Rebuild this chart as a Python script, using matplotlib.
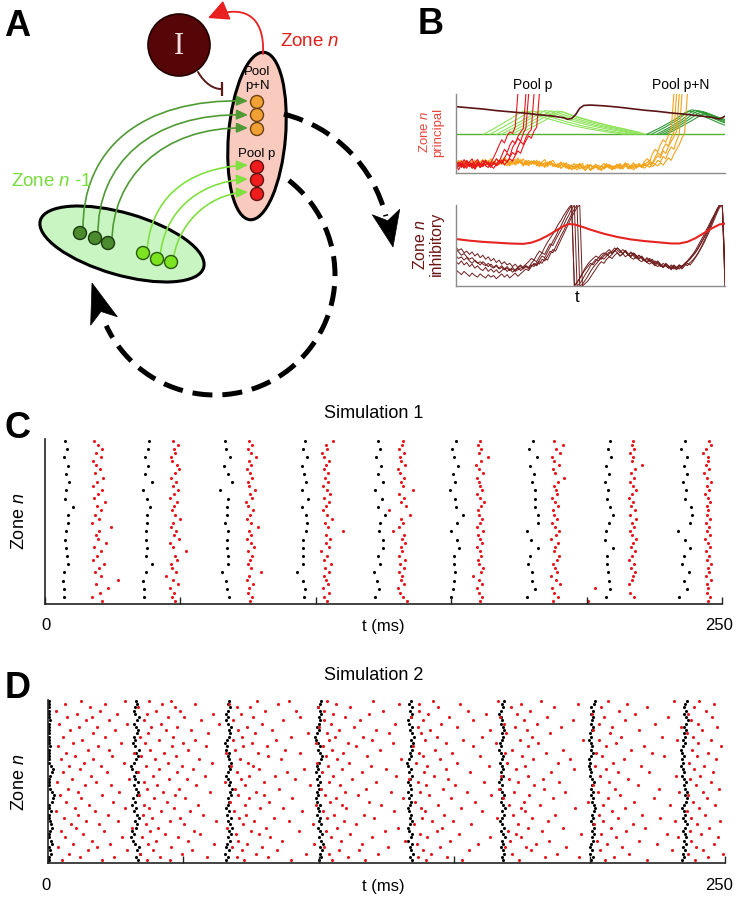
import numpy as np
import matplotlib
matplotlib.use("Agg")
import matplotlib.pyplot as plt
from matplotlib.patches import Ellipse, Circle, Arc, Polygon, FancyArrowPatch
from matplotlib.path import Path

plt.rcParams['font.family'] = ['Liberation Sans', 'DejaVu Sans']
plt.rcParams['mathtext.fontset'] = 'custom'
plt.rcParams['mathtext.it'] = 'Liberation Sans:italic'
plt.rcParams['mathtext.rm'] = 'Liberation Sans'

# ---------------- panel B : principal cells (values in % of axis height) ----
red_traces = [
    [12,8,15,10,6,14,18,9,12,7,11,16,10,13,20,27,35,42,38,47,52,50,58,100],
    [6,13,9,17,11,8,12,5,14,10,16,9,7,13,11,18,14,22,30,26,35,41,37,46,52,56,100],
    [15,9,12,6,10,14,8,13,17,11,9,15,12,8,14,10,16,13,19,25,21,32,38,44,40,50,57,100],
    [10,4,12,8,15,11,6,9,13,7,12,10,14,9,6,11,15,12,17,14,20,26,23,33,40,36,45,51,55,100],
    [8,14,7,11,16,9,13,5,10,12,8,15,11,7,13,9,12,16,10,14,18,15,22,28,25,34,41,47,44,53,58,100],
]
orange_traces = [
    [10,14,8,12,16,11,9,13,17,12,15,10,14,18,13,11,16,12,19,14,10,15,17,12,14,9,13,16,11,15,
     12,8,14,17,10,13,16,11,7,12,9,6,10,4,8,11,5,9,3,7,10,6,8,4,9,12,7,10,5,8,
     11,6,9,13,8,5,10,7,12,9,14,18,15,24,30,27,36,42,39,48,55,100],
    [15,9,12,7,11,14,10,16,8,13,11,17,12,9,15,13,10,14,20,16,12,17,11,15,13,18,10,14,12,16,
     9,13,11,7,14,10,12,8,11,6,9,13,5,10,7,4,9,12,6,8,3,7,11,5,9,6,10,8,4,7,
     10,5,8,12,6,9,4,8,11,7,10,13,16,12,20,26,22,31,37,34,45,52,100],
    [7,12,10,15,9,13,6,11,14,9,12,16,11,8,14,10,13,17,12,9,15,11,14,19,13,10,16,12,15,11,
     14,10,13,9,12,15,8,11,7,10,13,8,5,9,12,7,10,6,4,8,11,5,9,7,3,8,10,6,9,5,
     8,12,7,10,6,9,13,8,11,7,10,9,14,11,17,22,19,28,25,34,40,46,53,100],
    [12,16,10,14,8,12,15,11,9,14,17,12,10,15,12,18,14,11,16,13,9,14,12,17,15,11,13,9,14,12,
     16,11,9,13,10,14,12,8,10,14,9,11,7,10,5,9,12,6,8,11,4,9,7,10,5,8,12,6,9,7,
     11,8,5,9,12,7,10,6,9,8,12,10,7,13,11,16,14,21,18,27,33,30,41,49,100],
    [9,13,16,11,14,10,12,8,15,11,13,9,16,12,14,10,13,17,11,15,12,16,10,13,17,12,14,10,15,13,
     11,15,10,12,8,13,11,9,12,6,10,8,11,5,9,7,12,6,8,10,4,7,11,6,9,5,8,11,7,9,
     6,10,8,12,5,9,7,11,8,10,6,9,12,8,11,9,13,10,15,19,16,24,30,36,44,51,100],
]
input_level = 49
light_green_x = [
    [10.2,15,20,23.5,25.2,27,29,33,38,44,50,56,63],
    [12.6,18,23,26.3,28,29.8,31.8,35.8,40.8,46.8,52.8,58.8,65],
    [15.1,20.5,26,29.4,31.1,32.9,34.9,38.9,43.9,49.9,55.9,61.9,66.5],
    [16.9,22.5,28,31.5,33.2,35,37,41,46,52,58,63.5,67.5],
    [18.8,24.5,30,33.7,35.4,37.2,39.2,43.2,48.2,54.2,60.2,65.2,68.5],
    [20.6,26.5,32,35.9,37.6,39.4,41.4,45.4,50.4,56.4,62,66.5,69.5],
    [23.1,28,33,36.9,38.6,40.4,42.4,46.4,51.4,57.4,63,67.5,70.5],
]
light_green_y = [
    [49,58,68,75.5,78.5,77.6,74.5,70,65,59.5,55.5,52,49],
    [49,59,68.5,75.6,78.5,77.6,74.6,70.2,65.1,59.8,55.6,52.1,49],
    [49,59,69,75.7,78.6,77.7,74.7,70.3,65.3,60,55.8,52.3,49],
    [49,59,69.5,76,79,78.1,75,70.5,65.5,60.2,56,52.4,49],
    [49,59,69,75.6,78.5,77.7,74.8,70.4,65.4,60.1,55.9,52.3,49],
    [49,59,69,75.5,78.4,77.6,74.7,70.3,65.3,60,55.8,52.2,49],
    [49,57.5,66.5,74.6,77.5,76.8,74,69.8,64.9,59.7,55.5,52,49],
]
dark_green_x = [
    [70.9,76,81,84.7,86.4,88.2,90,94,98,100],
    [72.7,77.5,82.5,85.9,87.6,89.4,91,95,99,100],
    [74.6,79.5,84,87.1,88.8,90.6,92,96,100],
    [75.8,80.5,85.5,88.4,90.1,91.9,93,97,100],
    [77.1,82,87,89.6,91.3,93.1,94,98,100],
    [78.3,83,88,90.8,92.5,94.3,95,98,100],
]
dark_green_y = [
    [49,57.5,67,75.5,78.5,77.4,75,69,63,60.5],
    [49,57.5,67.5,76.8,80,78.8,76.5,70.2,64.5,63.5],
    [49,58,67.5,76.2,79.3,78.1,76,69.8,64.5],
    [49,57.5,68,75.7,78.7,77.6,75.8,69.8,66],
    [49,58,68.5,74.6,77.5,76.5,75,69.8,67.5],
    [49,57.5,67,72.6,75.5,74.6,73.5,69.5,67.5],
]
recurrent_x = [0,5,10,15,20,25,30,35,40,41.5,43,44.5,46,47.5,50,55,60,65,70,75,80,85,90,95,97,98,99,100]
recurrent_y = [84,82.5,81,79,77.5,76,74,72.5,70,68,69,74,82,85.5,86,85,83.5,81.5,79.5,78,76,74.5,72.5,70.5,69,68.5,70,72]

# ---------------- panel B : inhibitory cells -----------------------------
inh_mean_x = [0,5,10,15,20,25,28,31,34,37,40,42,44,47,50,55,60,65,70,75,80,83,86,89,92,95,98,100]
inh_mean_y = [58,56,54.5,53.5,52.5,52,53.5,57,62,68,74,76.5,76,73,69.5,64.5,60.5,57.5,55.5,54,52.5,52.5,54.5,59,65,71,76,77]
inh_traces = [
    [45,42,38,40,36,33,35,31,28,30,27,25,28,24,22,25,21,23,20,22,19,21,18,20,22,24,
     27,30,34,32,38,43,41,48,54,59,64,70,76,81,87,92,97,100,
     0,4,10,16,22,27,31,34,37,35,39,41,
     38,42,40,44,41,37,40,36,39,35,33,36,32,30,33,
     29,27,30,26,24,27,23,25,22,24,21,23,26,24,28,
     31,35,39,44,50,56,62,69,75,82,88,95,100,100,12],
    [30,27,31,26,29,24,27,22,25,21,19,23,18,21,17,20,16,19,22,18,21,17,20,23,19,22,
     25,23,28,32,30,36,41,39,46,52,50,57,63,69,75,82,88,95,100,
     0,3,8,14,19,25,29,33,31,36,39,42,
     45,41,44,47,43,40,44,38,41,37,34,38,35,31,34,
     30,33,28,31,27,24,28,25,22,26,23,21,25,27,30,
     34,38,42,47,53,59,66,73,80,87,94,100,100,0],
    [20,17,14,18,15,12,16,13,11,15,12,10,14,11,13,9,12,15,11,14,10,13,16,12,15,18,
     21,19,24,28,26,32,37,35,42,48,55,61,68,74,81,88,94,100,
     0,5,9,15,20,24,28,26,31,35,33,37,
     40,36,39,43,47,44,40,43,39,36,40,37,33,36,32,
     29,32,28,25,29,26,23,27,24,20,24,22,25,23,27,
     30,33,37,41,46,52,58,64,71,78,86,93,100,100,18],
    [37,34,36,32,35,31,28,32,29,26,30,27,24,27,23,26,22,25,21,24,20,23,19,22,25,21,
     24,22,26,24,29,27,33,31,37,43,41,48,55,62,68,75,82,89,95,100,
     0,2,7,12,18,23,27,31,35,33,37,40,
     43,47,44,41,45,42,38,42,39,35,38,34,31,35,32,
     28,31,27,24,28,25,22,26,23,20,24,21,25,28,26,
     30,35,40,46,52,59,66,74,82,90,97,100,0],
    [48,44,46,41,43,39,42,37,40,35,38,33,36,31,34,29,32,27,30,26,28,24,27,23,26,22,
     25,21,24,27,25,30,28,34,32,39,45,43,50,57,64,71,78,85,91,97,100,
     0,3,6,11,16,21,26,30,28,33,36,34,
     38,41,37,40,44,40,37,41,38,34,37,33,30,34,31,
     27,30,26,23,27,24,21,25,22,26,23,27,25,29,32,
     36,41,47,54,61,69,77,85,93,100,100,22],
]

# ---------------- panel C : Simulation 1 spike times (ms) ------------------
c_black = [
    [7.1,7.0,6.8,7.0,8.4,8.0,7.6,7.5,7.6,8.6,8.4,10.5,7.4,7.8,8.9,7.9,8.6,7.2,8.1,7.5],
    [36.6,36.6,36.3,37.2,39.4,37.2,37.5,37.3,37.3,37.5,37.5,38.8,37.5,36.3,39.4,37.0,38.1,36.8,37.9,38.4],
    [68.0,67.1,66.8,65.2,67.5,67.5,67.1,67.1,67.5,66.5,67.1,67.3,67.7,64.6,68.9,67.4,66.2,68.3,67.0,66.6],
    [95.6,96.0,95.2,92.9,95.4,95.2,95.2,95.4,96.4,96.6,96.4,94.8,97.2,94.8,96.4,95.8,94.9,96.7,95.3,96.1],
    [121.9,123.5,122.7,121.5,123.7,123.1,124.7,124.7,123.5,123.7,125.6,123.1,124.3,121.9,124.9,123.0,124.2,122.4,123.8,122.9],
    [149.8,150.6,151.2,151.4,151.2,151.2,153.0,152.3,150.0,152.1,154.5,151.8,151.4,149.6,151.4,150.5,152.6,151.0,150.2,151.9],
    [177.9,181.0,179.7,179.7,178.5,179.1,182.2,179.4,177.9,182.2,182.2,181.0,181.0,181.0,179.7,180.4,179.0,181.6,178.8,180.2],
    [207.2,208.6,208.4,208.0,207.6,207.6,209.9,206.8,207.2,208.4,209.9,208.6,207.6,208.0,206.8,208.3,207.1,209.0,207.8,208.5],
    [234.2,236.9,236.0,237.9,235.1,236.0,238.2,236.3,233.9,238.2,238.8,238.4,236.3,236.7,235.5,237.2,235.8,236.9,234.9,236.4],
]
c_red = [
    [21.0,17.5,20.2,23.4,19.0,26.8,20.8,18.5,19.8,21.9,17.9,19.3,20.6,18.1,22.7,19.5,18.8,20.1,24.4,17.2,
     19.9,18.4,20.7,19.1,22.2,18.0,19.6,20.9,17.7,19.2,21.5,18.6,20.3,19.0,17.9,20.5,18.9,21.1,19.4,18.2],
    [48.1,46.9,47.6,46.2,49.0,47.3,44.5,48.4,47.0,46.6,48.8,47.9,52.0,47.4,46.1,49.6,47.8,48.5,46.4,47.2,
     49.9,48.0,46.8,47.5,48.9,46.3,47.7,49.2,47.1,48.3,46.5,47.9,49.4,48.6,47.0,46.4,48.1,47.6,49.1,47.3],
    [75.8,76.4,74.9,75.2,76.9,74.6,75.5,79.8,76.1,74.8,75.7,76.6,75.0,77.3,75.9,74.5,76.2,75.4,78.6,76.0,
     74.7,75.6,76.8,75.1,74.4,76.3,75.8,77.5,75.2,74.9,76.5,75.7,74.6,76.1,75.3,78.0,75.9,74.8,76.4,75.5],
    [104.1,103.2,105.0,102.6,104.5,103.7,102.9,104.8,103.4,105.6,103.0,104.2,102.1,104.9,103.6,105.3,103.9,110.2,104.4,103.3,
     106.1,104.0,102.5,103.8,104.7,103.1,105.2,104.3,102.7,104.5,103.5,104.6,102.9,103.9,104.8,103.2,102.2,104.1,103.6,106.4],
    [133.6,132.2,131.0,130.4,132.6,131.6,131.9,130.8,132.4,131.2,132.8,130.6,132.0,131.4,133.0,131.8,132.5,128.6,130.9,132.3,
     131.5,134.8,127.0,133.2,131.3,132.6,130.7,135.8,132.1,131.4,132.7,131.0,130.5,132.9,131.6,131.2,132.4,130.9,131.8,132.3],
    [160.7,161.2,160.1,159.6,161.5,160.4,158.2,160.9,161.8,160.3,159.8,161.1,160.5,159.4,161.4,160.8,160.0,161.6,159.7,160.6,
     161.3,160.2,159.9,161.0,162.2,160.5,159.5,161.2,160.7,160.1,159.6,161.7,160.3,159.2,160.9,163.5,160.4,161.1,159.8,160.6],
    [187.6,189.5,188.1,187.2,190.0,188.6,186.8,189.2,188.4,187.5,188.9,189.7,187.9,188.2,189.4,187.0,188.7,189.8,188.3,187.4,
     189.1,188.0,187.7,189.6,188.5,187.3,189.0,188.8,187.8,189.3,191.8,188.4,187.6,189.9,188.1,187.1,190.3,188.6,191.2,187.9],
    [200.6,217.4,216.2,203.1,215.8,216.7,217.2,218.0,216.4,217.5,215.6,216.9,217.9,216.3,217.1,218.3,216.6,215.9,217.4,216.8,
     218.1,216.2,217.7,216.5,217.0,215.7,216.9,218.4,217.3,216.1,217.6,216.4,217.8,220.4,216.7,217.2,216.0,217.5,216.8,217.3],
    [244.9,245.6,244.3,245.0,244.6,245.8,244.1,245.3,244.7,245.9,244.4,245.2,244.0,245.5,244.8,243.9,245.4,244.6,245.1,244.2,
     245.7,244.5,245.0,244.3,245.6,244.9,243.7,245.2,244.4,245.8,244.6,243.5,245.3,244.1,245.0,244.7,243.0,244.0,245.9,245.2],
]

# ---------------- panel D : Simulation 2 spike times (ms) ------------------
d_black = [
    [0.4,0.3,1.2,0.8,0.4,1.5,1.1,0.5,0.3,0.9,1.6,1.2,0.6,0.3,0.4,1.0,0.5,0.3,1.3,1.9,2.3,1.4,0.6,0.3,0.4,
     0.3,0.8,1.4,2.0,1.1,0.4,0.3,0.5,0.3,0.4,0.9,0.3,0.4,0.3,0.3,0.5,0.4,0.3,0.6,0.3,0.4,0.3,0.3,0.5,0.4],
    [33.2,32.6,33.8,32.9,33.5,32.1,31.4,30.8,31.9,31.2,32.5,33.0,32.2,33.6,32.8,31.7,32.4,31.1,32.0,31.5,32.7,33.3,32.6,31.9,33.1,
     32.3,31.6,32.5,31.2,30.7,31.8,32.4,33.2,32.6,33.5,32.0,31.3,32.1,31.6,32.8,33.4,32.5,31.8,32.9,33.6,32.3,31.7,32.2,33.0,32.5],
    [65.8,66.5,65.4,66.9,65.9,66.2,67.1,66.4,67.5,66.8,67.9,67.2,66.6,67.4,66.0,66.7,65.6,66.3,67.0,66.5,67.6,67.1,67.8,66.9,67.3,
     66.6,65.9,66.4,67.2,66.8,67.5,67.0,66.3,66.9,65.7,66.2,65.5,66.1,66.8,67.3,66.7,67.4,66.5,65.8,66.4,65.9,66.6,67.1,66.3,66.9],
    [100.2,100.9,100.4,101.2,100.6,101.5,100.8,99.9,101.1,100.3,99.6,100.7,99.9,100.5,99.2,100.1,99.7,100.4,99.4,98.9,99.8,99.3,100.0,99.6,100.3,
     99.5,99.9,99.1,99.7,99.2,100.2,100.8,101.3,100.6,99.8,100.4,99.7,99.1,98.7,99.5,100.2,99.3,99.9,100.6,100.1,100.8,100.3,99.6,100.4,100.9],
    [134.5,133.8,134.9,134.2,133.6,134.4,133.1,133.9,134.6,133.4,133.0,133.7,134.3,133.5,134.1,133.2,132.8,133.6,134.2,133.4,133.9,133.1,134.0,133.5,132.9,
     133.8,134.4,133.3,133.9,133.0,132.6,133.4,134.1,133.7,134.5,133.9,134.8,134.2,135.1,134.4,133.6,134.3,133.2,132.8,133.9,134.6,133.8,134.3,133.4,134.0],
    [168.2,167.6,168.5,167.9,167.3,168.1,167.5,168.7,168.0,167.4,168.3,167.7,166.8,167.6,168.4,167.8,168.6,167.9,167.2,167.8,168.5,167.6,167.0,167.7,166.6,
     167.3,168.0,167.4,168.2,167.6,166.9,167.5,168.1,167.3,166.7,167.4,166.8,167.5,168.2,167.7,168.4,167.9,167.1,167.8,167.2,166.5,167.3,168.0,167.5,168.3],
    [200.5,201.1,200.3,200.8,200.0,200.6,201.3,200.9,201.6,201.0,201.8,201.3,200.7,201.4,200.9,201.7,202.1,201.5,200.8,201.3,200.6,201.1,200.4,200.9,201.5,
     200.8,200.2,200.7,200.0,199.6,200.3,199.8,200.5,201.2,200.6,201.0,200.4,199.9,200.6,200.1,200.8,201.3,200.5,200.9,201.4,200.7,201.2,200.6,201.5,202.0],
    [234.2,234.9,234.4,235.2,234.6,235.5,234.9,235.7,235.1,234.5,235.3,235.9,235.2,234.6,235.4,234.8,234.2,234.9,235.6,236.1,235.4,235.9,235.3,234.7,235.5,
     234.9,234.3,235.0,234.4,233.9,234.6,234.1,234.8,234.3,233.8,234.5,235.1,234.6,235.3,234.8,235.5,235.0,235.7,236.2,235.5,234.9,235.6,234.8,235.3,236.0],
]
d_red = [
    [5.1,19.8,36.4,44.9,72.3,89.6,104.8,117.2,139.5,152.8,174.1,205.6,221.3,238.9],
    [11.7,24.2,41.3,58.7,69.8,81.4,110.6,136.8,147.2,183.5,196.2,209.1,243.6],
    [7.9,34.1,49.5,76.8,95.1,103.6,121.9,141.3,171.2,187.9,214.7,236.4,249.1],
    [14.6,29.3,38.8,53.2,71.5,84.7,107.3,114.9,138.6,155.4,178.3,203.8,230.5,241.7],
    [3.8,18.2,45.6,67.9,79.2,101.9,125.4,144.7,168.9,176.6,191.4,211.8,239.2],
    [9.3,22.8,36.9,61.4,73.6,98.4,116.1,136.2,158.7,180.2,206.4,224.9,245.8],
    [16.4,39.7,51.8,70.2,86.3,108.1,131.7,148.3,170.6,185.1,202.9,218.3,237.6],
    [6.2,27.5,34.6,47.9,82.1,104.4,119.8,139.9,163.2,174.8,209.7,232.8,247.3],
    [12.9,43.2,56.3,69.4,77.8,111.5,137.4,151.6,172.9,196.8,204.2,228.6,241.1],
    [4.7,20.6,37.8,53.9,74.9,92.6,102.7,124.3,143.8,169.7,182.4,213.5,236.9],
    [10.5,31.2,40.6,66.1,80.5,106.9,129.2,145.5,177.1,190.3,207.8,220.6,244.2],
    [8.4,18.9,36.2,50.4,71.9,97.8,113.6,135.1,156.2,173.4,201.7,215.9,239.8],
    [14.1,25.7,45.1,61.9,76.2,88.9,109.4,141.9,149.7,184.6,205.1,231.4,248.2],
    [5.9,38.3,48.8,70.7,83.6,103.1,120.5,138.1,165.9,178.9,210.6,226.1,237.3],
    [11.2,22.1,34.9,57.1,73.2,105.7,116.8,146.4,171.8,187.2,203.4,219.2,242.6],
    [2.9,17.3,41.9,52.3,68.6,93.8,101.4,127.9,139.2,160.4,176.2,208.3,235.8],
    [9.8,28.6,37.2,46.4,78.4,86.9,110.2,137.9,152.4,174.5,194.7,213.1,240.4],
    [15.2,35.6,55.4,72.8,99.1,108.7,123.1,144.2,170.1,181.6,204.9,229.7,246.4],
    [6.8,23.9,43.9,67.3,81.7,104.1,118.4,135.7,157.6,175.9,199.3,216.4,238.1],
    [12.3,39.1,50.7,74.4,90.2,106.3,131.2,148.9,168.2,186.5,206.8,223.7,243.3],
    [4.4,20.1,33.7,46.8,70.1,79.6,102.3,114.4,140.6,163.7,177.8,211.2,236.2],
    [10.9,26.4,42.4,59.8,76.9,109.8,126.8,137.3,154.9,172.1,190.9,203.1,233.1,241.9],
    [7.3,36.7,48.2,68.9,85.4,100.9,117.6,145.9,166.4,183.2,209.2,225.6,247.9],
    [13.6,23.2,40.2,54.8,72.6,96.7,107.8,139.6,150.3,179.6,201.2,217.7,239.4],
    [3.3,17.9,35.3,65.2,79.9,103.9,121.3,136.5,160.9,173.7,188.6,207.1,244.9],
    [8.9,29.8,44.7,51.2,71.2,91.3,112.1,133.4,147.8,170.3,182.9,214.2,237.1],
    [15.9,38.9,57.9,74.1,83.9,105.4,128.6,142.4,167.1,177.4,203.7,231.9,240.7],
    [5.4,21.7,33.4,47.5,69.7,88.1,101.1,115.9,138.9,155.8,185.7,210.4,221.8,245.4],
    [11.8,41.1,53.5,78.1,94.4,108.4,124.9,146.9,172.7,194.1,205.9,238.5],
    [7.6,19.4,36.1,49.3,67.6,75.7,103.4,119.2,140.1,162.8,176.1,201.9,218.9,242.2],
    [13.3,27.9,44.3,60.6,73.8,99.5,111.3,135.9,151.1,169.4,188.2,208.7,236.6],
    [4.9,16.7,39.4,55.9,70.9,86.2,106.6,130.3,144.9,179.1,192.8,212.6,246.8],
    [10.1,23.6,34.4,47.1,81.2,102.5,117.9,138.4,159.5,174.9,204.6,227.3,239.6],
    [6.5,31.7,42.8,65.7,77.4,92.9,109.1,137.1,149.2,168.6,183.9,202.3,223.1,243.9],
    [14.8,22.6,37.5,51.6,69.1,87.4,104.9,122.6,142.9,171.3,190.1,215.4,237.8],
    [3.6,18.4,45.9,58.4,72.1,80.8,101.6,113.8,134.7,156.9,177.3,206.1,220.1,248.6],
    [9.1,26.9,35.8,49.9,75.3,98.9,110.9,127.3,147.1,165.3,181.1,209.9,240.1],
    [12.6,40.9,54.1,68.2,84.2,103.7,119.5,139.3,153.4,174.2,197.6,203.6,232.2,244.7],
    [5.7,20.9,33.9,46.1,71.7,89.8,106.1,116.5,143.5,160.1,178.6,211.6,226.9,238.3],
    [16.8,37.1,59.2,76.6,96.1,102.9,125.9,137.7,169.1,185.3,207.4,236.1],
    [8.2,24.7,43.6,52.9,70.3,82.9,107.5,121.1,141.1,163.1,176.8,201.4,218.1,241.5],
    [11.4,18.1,38.2,47.7,73.4,100.1,112.9,136.6,150.9,172.5,189.4,208.2,233.9,247.1],
    [4.1,29.1,41.6,63.1,78.9,104.6,128.1,145.1,168.4,180.7,203.3,224.3,239.9],
    [13.9,22.4,35.6,56.6,68.4,86.6,101.8,115.3,138.3,157.1,175.6,193.9,212.9,237.4],
    [7.1,16.1,44.4,50.1,75.8,93.1,109.6,133.9,148.1,166.9,184.1,205.3,229.1,245.1],
    [10.7,25.3,36.6,61.1,71.4,105.1,118.7,140.3,161.6,173.1,200.8,216.8,236.5],
    [3.1,19.1,39.9,48.6,80.1,91.7,102.1,123.7,136.9,155.1,178.1,210.8,242.8],
    [15.4,33.1,46.9,69.9,74.7,99.7,111.7,144.1,170.8,186.9,204.1,221.1,238.7],
    [6.1,21.1,42.1,54.4,66.9,84.9,106.4,129.8,137.1,152.1,174.6,195.9,213.9,246.1],
    [12.1,28.3,37.4,45.3,77.1,89.1,103.2,120.1,142.1,166.1,181.9,206.9,231.1,240.3],
]
t_ticks = [0, 50, 100, 150, 200, 250]

RED = '#e8161c'
W, H = 738, 901
fig = plt.figure(figsize=(W / 100, H / 100), dpi=100)


def px_axes(x0, y0, x1, y1):
    ax = fig.add_axes([x0 / W, 1 - y1 / H, (x1 - x0) / W, (y1 - y0) / H])
    ax.patch.set_alpha(0)
    return ax


# overlay in pixel coordinates for the diagram and the free text
ov = fig.add_axes([0, 0, 1, 1])
ov.set_xlim(0, W)
ov.set_ylim(H, 0)
ov.axis('off')


def head(tip, back, width):
    tip = np.array(tip, float)
    back = np.array(back, float)
    d = tip - back
    u = d / np.hypot(*d)
    n = np.array([-u[1], u[0]])
    pts = [tip, back + n * width / 2, back + d * 0.25, back - n * width / 2]
    ov.add_patch(Polygon(pts, closed=True, fc='black', ec='black', lw=0.5, zorder=3))


def curve(verts, color, lw=1.2, arrow=True, hl=0.45, hw=0.2, ms=15):
    codes = [Path.MOVETO] + [Path.CURVE4] * (len(verts) - 1)
    style = '-|>,head_length=%g,head_width=%g' % (hl, hw) if arrow else '-'
    ov.add_patch(FancyArrowPatch(path=Path(verts, codes), arrowstyle=style,
                                 mutation_scale=ms, color=color, lw=lw, zorder=2))


# ---------------- panel A ----------------
ov.add_patch(Ellipse((122, 244), 170, 62, angle=16.1, fc='#c9f5c3', ec='black', lw=2.2, zorder=1))
ov.add_patch(Ellipse((257, 136), 168, 57, angle=-85.2, fc='#f9cbbf', ec='black', lw=2.2, zorder=1))

dash = dict(color='black', lw=3.6, ls=(0, (4, 2)), capstyle='butt', zorder=1)
ov.add_patch(Arc((250, 250), 280, 280, theta1=-76, theta2=-14, **dash))
head((393, 247), (386, 212), 28)
ov.add_patch(Arc((215, 275), 240, 240, theta1=-52, theta2=155, **dash))
head((92, 283), (104, 321), 28)

for v in [[(83, 230), (82, 150), (140, 98), (248, 101)],
          [(98, 235), (97, 165), (150, 112), (248, 115)],
          [(112, 242), (112, 180), (160, 126), (248, 128)]]:
    curve(v, '#4f9a35')
for v in [[(147, 252), (150, 200), (185, 168), (248, 165)],
          [(160, 258), (163, 215), (195, 182), (248, 179)],
          [(173, 262), (176, 228), (205, 194), (248, 192)]]:
    curve(v, '#80e040')

for c in [(80, 233), (95, 238), (108, 243)]:
    ov.add_patch(Circle(c, 6.5, fc='#4b8b2e', ec='#1a3a10', lw=1, zorder=4))
for c in [(143, 253), (157, 259), (171, 262)]:
    ov.add_patch(Circle(c, 6.5, fc='#7be31f', ec='#2a5a10', lw=1, zorder=4))
for c in [(257, 102), (257, 115), (257, 129)]:
    ov.add_patch(Circle(c, 6.5, fc='#f0a035', ec='#6a4010', lw=1, zorder=4))
for c in [(257, 167), (257, 180), (257, 194)]:
    ov.add_patch(Circle(c, 6.5, fc='#ee1c1c', ec='#601010', lw=1, zorder=4))

ov.add_patch(Circle((179, 45), 31, fc='#560606', ec='#220000', lw=1.2, zorder=4))
ov.text(179, 46, 'I', family='Liberation Serif', fontsize=22, color='#f2dede',
        ha='center', va='center', zorder=5)
# feedback arrow from zone n to the inhibitory cell (kept inside the canvas)
curve([(263, 54), (265, 14), (242, 4), (208, 18)], '#e82020', lw=1.3, hl=0.7, hw=0.35, ms=18)
curve([(198, 72), (205, 84), (214, 89), (221, 89)], '#5a1a1a', lw=1.4, arrow=False)
ov.plot([222, 222], [82, 96], color='#5a1a1a', lw=1.6, solid_capstyle='butt', zorder=2)

ov.text(257, 79, 'Pool\np+N', fontsize=9.5, ha='center', va='center', linespacing=1.25, zorder=5)
ov.text(257, 154, 'Pool p', fontsize=9.5, ha='center', va='center', zorder=5)
ov.text(310, 42, 'Zone $n$', fontsize=13.5, color='#e3201b', ha='center', va='center')
ov.text(52, 182, 'Zone $n$ -1', fontsize=13.5, color='#77dd3c', ha='center', va='center')

# ---------------- panel B ----------------
axp = px_axes(456, 94, 725, 173)
axi = px_axes(456, 205, 725, 286)
for ax in (axp, axi):
    ax.set_xlim(0, 100)
    ax.set_ylim(0, 100)
    ax.set_xticks([])
    ax.set_yticks([])
    for s in ('top', 'right'):
        ax.spines[s].set_visible(False)
    for s in ('left', 'bottom'):
        ax.spines[s].set_color('#8c8c8c')
        ax.spines[s].set_linewidth(1)

axp.axhline(input_level, color='#55b030', lw=1)
for xs, ys in zip(light_green_x, light_green_y):
    axp.plot(xs, ys, color='#8ee35a', lw=0.8)
for xs, ys in zip(dark_green_x, dark_green_y):
    axp.plot(xs, ys, color='#2f9a35', lw=0.8)
for tr in orange_traces:
    axp.plot(np.arange(len(tr)), tr, color='#f5a31a', lw=0.8)
for tr in red_traces:
    axp.plot(np.arange(len(tr)), tr, color=RED, lw=0.8)
axp.plot(recurrent_x, recurrent_y, color='#5c1414', lw=1.2)

for tr in inh_traces:
    axi.plot(np.arange(len(tr)), tr, color='#6e1c1c', lw=0.7)
axi.plot(inh_mean_x, inh_mean_y, color='#e52421', lw=1.5)

ov.text(533, 85, 'Pool p', fontsize=10, ha='center', va='center')
ov.text(681, 85, 'Pool p+N', fontsize=10, ha='center', va='center')
ov.text(431, 132, 'Zone $n$\nprincipal', fontsize=9.5, color='#e8453c', rotation=90,
        ha='center', va='center', multialignment='center', linespacing=1.1)
ov.text(428, 244, 'Zone $n$\ninhibitory', fontsize=11.5, color='#6b1616', rotation=90,
        ha='center', va='center', multialignment='center', linespacing=1.05)
ov.text(577, 298, 't', fontsize=12, ha='center', va='center')


# ---------------- panels C and D ----------------
def raster(ax, black, black_rows, red, red_rows, ylim):
    for col in black:
        ax.scatter(col, black_rows[:len(col)], s=5, color='black', linewidths=0)
    for col, rows in zip(red, red_rows):
        ax.scatter(col, rows[:len(col)], s=5, color=RED, linewidths=0)
    ax.set_xlim(0, 250)
    ax.set_ylim(*ylim)
    ax.set_yticks([])
    ax.set_xticks(t_ticks)
    ax.set_xticklabels([])
    ax.tick_params(axis='x', direction='in', length=5, width=1, color='#222222')
    for s in ('top', 'right'):
        ax.spines[s].set_visible(False)
    for s in ('left', 'bottom'):
        ax.spines[s].set_color('#222222')
        ax.spines[s].set_linewidth(1.2)


axc = px_axes(45, 439, 722, 604)
c_rows = np.arange(1, 21)
c_red_rows = [np.arange(40) * 0.5 + 0.55 for _ in c_red]
raster(axc, c_black, c_rows, c_red, c_red_rows, (0.15, 20.25))

axd = px_axes(48, 700, 725, 863)
d_rows = np.arange(50)
d_red_rows = [[r] * len(tr) for r, tr in enumerate(d_red)]
raster(axd, d_black, d_rows, d_red, d_red_rows, (-0.92, 49.3))

for y_t, y_l, y_tit, title in [(625, 521, 414, 'Simulation 1'),
                               (885, 782, 675, 'Simulation 2')]:
    ov.text(46, y_t, '0', fontsize=12, ha='center', va='center')
    ov.text(719, y_t, '250', fontsize=12, ha='center', va='center')
    ov.text(383, y_t + 1, 't (ms)', fontsize=12, ha='center', va='center')
    ov.text(19, y_l, 'Zone $n$', fontsize=13, rotation=90, ha='center', va='center')
    ov.text(374, y_tit, title, fontsize=13, ha='center', va='center')

for lab, x, y in [('A', 17, 27), ('B', 431, 25), ('C', 18, 428), ('D', 18, 688)]:
    ov.text(x, y, lab, fontsize=26, fontweight='bold', ha='center', va='center')

fig.savefig('out.png', dpi=100, facecolor='white')
